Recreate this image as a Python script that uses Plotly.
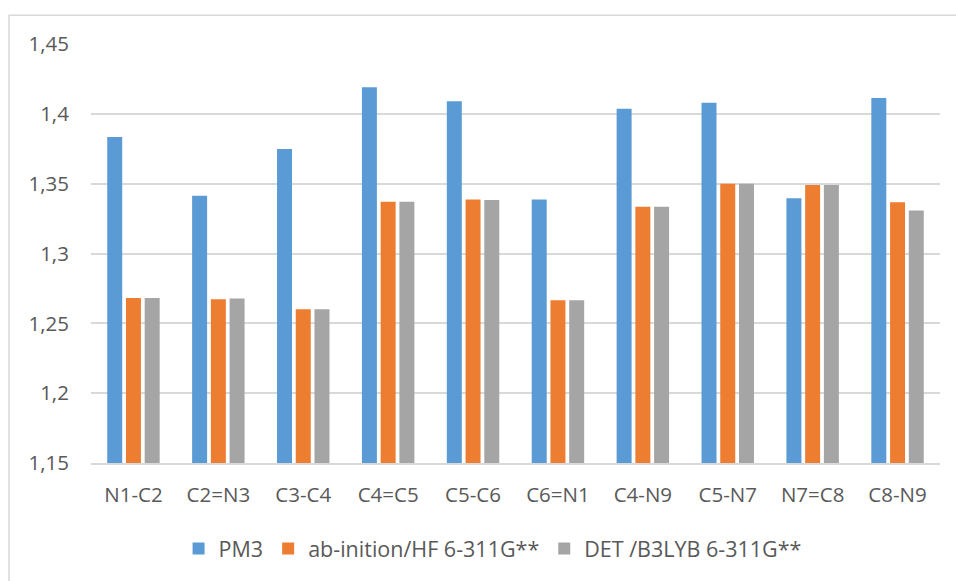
import plotly.graph_objects as go

categories = ["N1-C2", "C2=N3", "C3-C4", "C4=C5", "C5-C6", "C6=N1", "C4-N9", "C5-N7", "N7=C8", "C8-N9"]
pm3 = [1.3834, 1.3414, 1.3749, 1.419, 1.409, 1.3386, 1.4037, 1.408, 1.3395, 1.4113]
hf = [1.2682, 1.2673, 1.260, 1.337, 1.3386, 1.2666, 1.3334, 1.350, 1.349, 1.3367]
dft = [1.2682, 1.2678, 1.260, 1.337, 1.3383, 1.2666, 1.3334, 1.350, 1.349, 1.3308]

series_names = ["PM3", "ab-inition/HF 6-311G**", "DET /B3LYB 6-311G**"]
colors = ["#5B9BD5", "#ED7D31", "#A5A5A5"]

FONT = "Open Sans"
TXT = "#595959"
FS = 20.5

fig = go.Figure()
for name, vals, col in zip(series_names, [pm3, hf, dft], colors):
    fig.add_trace(go.Bar(x=categories, y=vals, name=name, marker_color=col,
                         marker_line_width=0))

fig.update_layout(
    width=956, height=581,
    margin=dict(l=91, r=16, t=44, b=114),
    paper_bgcolor="white", plot_bgcolor="white",
    separators=", ",
    barmode="group", bargap=0.338, bargroupgap=0.2,
    font=dict(family=FONT, size=FS, color=TXT),
    showlegend=True,
    legend=dict(orientation="h", x=0.473, xanchor="center", y=-0.155, yanchor="top",
                font=dict(family=FONT, size=21.5, color=TXT), traceorder="normal"),
    xaxis=dict(showgrid=False, showline=True, linecolor="#D9D9D9", linewidth=2,
               ticks="outside", ticklen=12, tickcolor="rgba(0,0,0,0)",
               tickfont=dict(family=FONT, size=FS, color=TXT)),
    yaxis=dict(range=[1.15, 1.45], dtick=0.05, tick0=1.15,
               showgrid=True, gridcolor="#D9D9D9", gridwidth=1.5,
               zeroline=False, showline=False,
               ticks="outside", ticklen=17, tickcolor="rgba(0,0,0,0)",
               tickfont=dict(family=FONT, size=FS, color=TXT)),
    shapes=[dict(type="rect", xref="paper", yref="paper",
                 x0=(9 - 91) / 849, x1=1.2, y0=-1.0, y1=1 + (44 - 15) / 423,
                 line=dict(color="#D9D9D9", width=1.5), fillcolor="rgba(0,0,0,0)",
                 layer="below")],
)

fig.write_html("out.html", config={"displayModeBar": False},
               post_script="document.body.style.margin='0';")
